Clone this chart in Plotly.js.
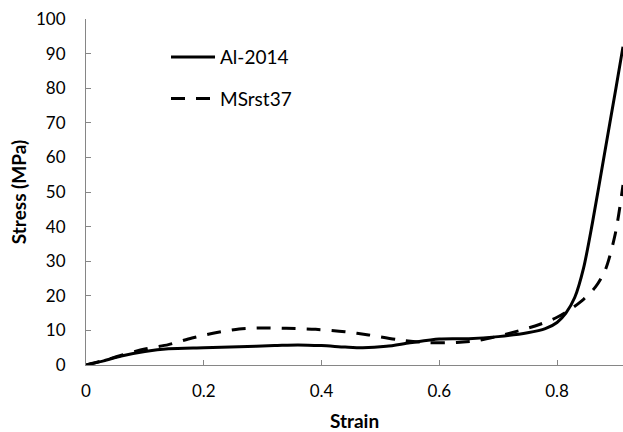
<!DOCTYPE html>
<html>
<head>
<meta charset="utf-8">
<script src="https://cdn.plot.ly/plotly-3.0.1.min.js"></script>
<style>html,body{margin:0;padding:0;background:#fff;}#chart{width:623px;height:432px;}</style>
</head>
<body>
<div id="chart"></div>
<script>
// Data
const alStrain = [0, 0.03, 0.06, 0.1, 0.14, 0.2, 0.26, 0.32, 0.36, 0.4, 0.44, 0.47, 0.51, 0.55, 0.6, 0.65, 0.7, 0.75, 0.78, 0.8, 0.815, 0.83, 0.845, 0.86, 0.88, 0.9, 0.912];
const alStress = [0, 1.2, 2.6, 3.9, 4.7, 5.0, 5.3, 5.6, 5.8, 5.6, 5.2, 5.0, 5.4, 6.4, 7.5, 7.6, 8.2, 9.3, 10.5, 12.3, 15.0, 19.5, 28, 41, 60.5, 80, 92];
const msStrain = [0, 0.03, 0.06, 0.1, 0.14, 0.18, 0.22, 0.26, 0.3, 0.34, 0.39, 0.44, 0.48, 0.53, 0.58, 0.63, 0.67, 0.72, 0.77, 0.8, 0.82, 0.845, 0.865, 0.882, 0.899, 0.912];
const msStress = [0, 1.3, 2.8, 4.6, 5.9, 7.8, 9.3, 10.4, 10.7, 10.6, 10.3, 9.6, 8.7, 7.3, 6.5, 6.5, 7.2, 9.2, 11.7, 13.8, 15.8, 19.0, 22.5, 27.5, 38, 52];
const seriesNames = ["Al-2014", "MSrst37"];
const xTicks = [0, 0.2, 0.4, 0.6, 0.8];
const xTickText = ["0", "0.2", "0.4", "0.6", "0.8"];
const yTicks = [0, 10, 20, 30, 40, 50, 60, 70, 80, 90, 100];

const FONT = "Lato, 'Open Sans', sans-serif";
const traces = [
  {x: alStrain, y: alStress, name: seriesNames[0], mode: "lines",
   line: {color: "#000", width: 3, shape: "spline", smoothing: 0.8}, legend: "legend"},
  {x: msStrain, y: msStress, name: seriesNames[1], mode: "lines",
   line: {color: "#000", width: 3, dash: "14px,11px", shape: "spline", smoothing: 0.8}, legend: "legend2"}
];
const legendCommon = {
  bgcolor: "rgba(0,0,0,0)", borderwidth: 0, itemwidth: 44,
  font: {family: FONT, size: 19, color: "#000"}, xanchor: "left", yanchor: "middle"
};
const layout = {
  width: 623, height: 432,
  margin: {l: 86, r: 0, t: 19, b: 67},
  paper_bgcolor: "#fff", plot_bgcolor: "#fff",
  font: {family: FONT, size: 17, color: "#000"},
  showlegend: true,
  legend: Object.assign({x: 0.149, y: 0.89}, legendCommon),
  legend2: Object.assign({x: 0.149, y: 0.77}, legendCommon),
  xaxis: {
    range: [0, 0.912], tickvals: xTicks, ticktext: xTickText,
    showgrid: false, zeroline: false, showline: true, linecolor: "#868686", linewidth: 1,
    ticks: "inside", ticklen: 5, tickcolor: "#868686", ticklabelstandoff: 11,
    tickfont: {family: FONT, size: 17, color: "#000"},
    title: {text: "<b>Strain</b>", font: {family: FONT, size: 19, color: "#000"}, standoff: 14}
  },
  yaxis: {
    range: [0, 100], tickvals: yTicks,
    showgrid: false, zeroline: false, showline: true, linecolor: "#868686", linewidth: 1,
    ticks: "inside", ticklen: 5, tickcolor: "#868686", ticklabelstandoff: 16,
    tickfont: {family: FONT, size: 17, color: "#000"},
    title: {text: "<b>Stress (MPa)</b>", font: {family: FONT, size: 19, color: "#000"}, standoff: 4}
  }
};
Plotly.newPlot("chart", traces, layout, {displayModeBar: false, staticPlot: true});
</script>
</body>
</html>
